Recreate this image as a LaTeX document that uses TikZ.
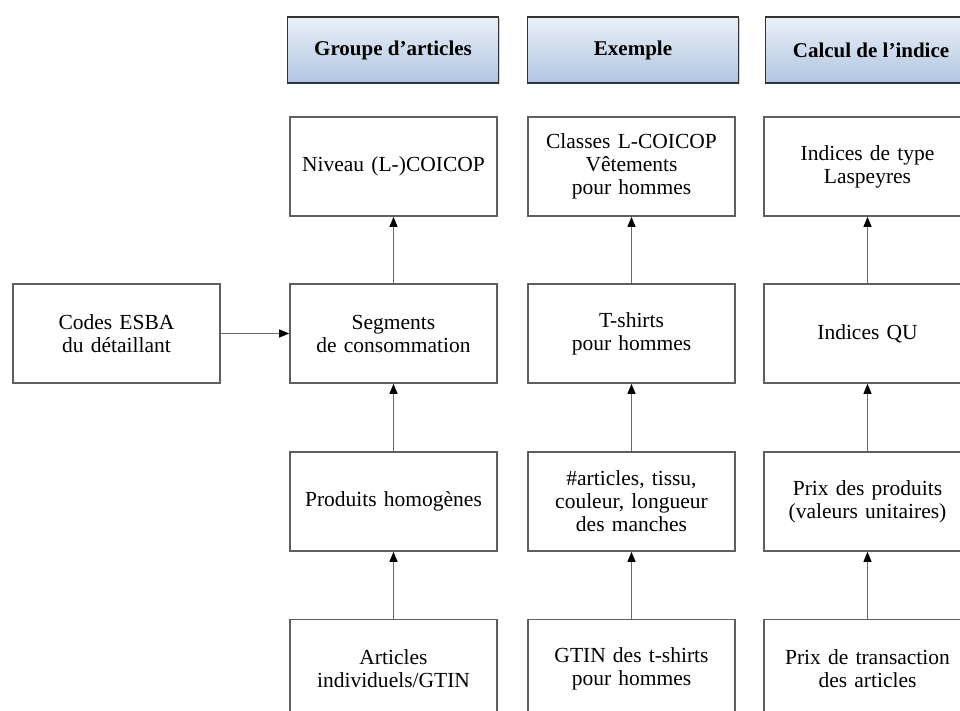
\documentclass[tikz,border=0pt]{standalone}
\usepackage{fontspec}
\setmainfont{Liberation Serif}
\usetikzlibrary{arrows.meta, positioning, shadows}
\definecolor{hdrtop}{RGB}{234,240,248}
\definecolor{hdrbot}{RGB}{176,197,225}
\definecolor{boxline}{RGB}{95,95,95}
\definecolor{arrline}{RGB}{105,105,105}

\begin{document}
\begin{tikzpicture}[x=1pt, y={(0pt,-1pt)},
        block/.style={draw=boxline, line width=1.7pt, fill=white, align=center, minimum height=99pt, minimum width=207pt, text width=200pt, inner sep=0pt, font=\fontsize{21.5}{23}\selectfont},
        hdrblock/.style={draw=black!80, line width=1.4pt, top color=hdrtop, bottom color=hdrbot, align=center, minimum height=66pt, minimum width=211pt, inner sep=0pt, font=\fontsize{21}{23}\selectfont\bfseries, drop shadow={shadow xshift=1.2pt, shadow yshift=-1.2pt, opacity=0.35}},
        uparrow/.style={-{Triangle[length=10pt, width=8pt, black]}, line width=1.1pt, arrline},
    ]
        \clip (0,0) rectangle (960,711);

        % Column headers
        \node[hdrblock] (hgroup) at (393,50) {Groupe d’articles};
        \node[hdrblock] (hexample) at (633,50) {Exemple};
        \node[hdrblock] (hcalc) at (871,50) {Calcul de l’indice};

        % Groupe d'articles
        \node[block] (coicop) at (393.5,166.5) {Niveau (L-)COICOP};
        \node[block] (segments) at (393.5,333.5) {Segments\\de consommation};
        \node[block] (homog) at (393.5,501.5) {Produits homogènes};
        \node[block] (gtin) at (393.5,669) {Articles\\individuels/GTIN};
        \node[block] (esba) at (116.5,333.5) {Codes ESBA\\du détaillant};

        % Exemple
        \node[block] (classes) at (631.5,166.5) {Classes L-COICOP\\Vêtements\\pour hommes};
        \node[block] (tshirts) at (631.5,333.5) {T-shirts\\pour hommes};
        \node[block] (attribs) at (631.5,501.5) {\#articles, tissu,\\couleur, longueur\\des manches};
        \node[block] (gtinex) at (631.5,669) {GTIN des t-shirts\\pour hommes};

        % Calcul de l'indice
        \node[block] (laspeyres) at (867.5,166.5) {Indices de type\\Laspeyres};
        \node[block] (qu) at (867.5,333.5) {Indices QU};
        \node[block] (prixprod) at (867.5,501.5) {Prix des produits\\(valeurs unitaires)};
        \node[block] (prixtrans) at (867.5,669) {Prix de transaction\\des articles};

        % Aggregation arrows
        \draw[uparrow] (esba.east) -- (segments.west);
        \draw[uparrow] (segments.north) -- (coicop.south);
        \draw[uparrow] (homog.north) -- (segments.south);
        \draw[uparrow] (gtin.north) -- (homog.south);
        \draw[uparrow] (tshirts.north) -- (classes.south);
        \draw[uparrow] (attribs.north) -- (tshirts.south);
        \draw[uparrow] (gtinex.north) -- (attribs.south);
        \draw[uparrow] (qu.north) -- (laspeyres.south);
        \draw[uparrow] (prixprod.north) -- (qu.south);
        \draw[uparrow] (prixtrans.north) -- (prixprod.south);
    \end{tikzpicture}
\end{document}
